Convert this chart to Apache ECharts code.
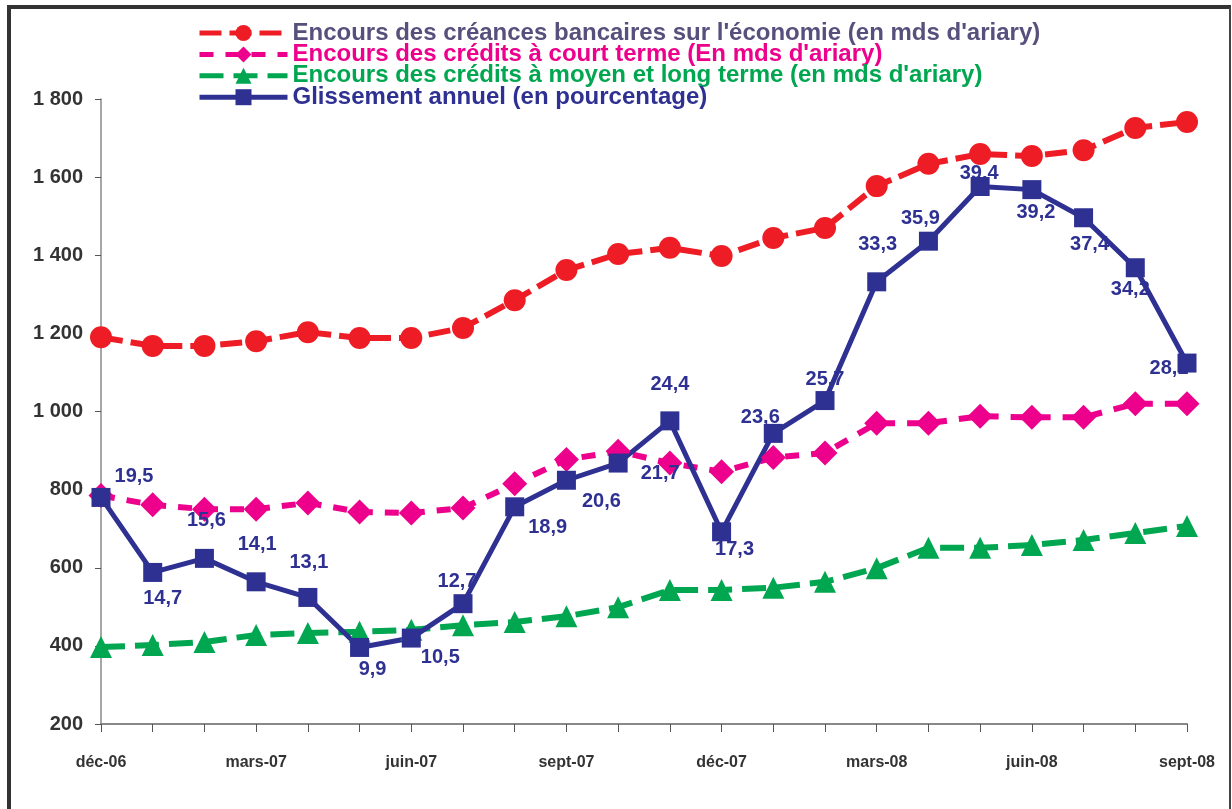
<!DOCTYPE html>
<html>
<head>
<meta charset="utf-8">
<script src="https://cdn.jsdelivr.net/npm/echarts@6/dist/echarts.min.js"></script>
<style>
  html, body { margin: 0; padding: 0; background: #fff; }
  #frame {
    position: absolute; left: 7px; top: 5px; width: 1218px; height: 810px;
    border-top: 4px solid #333; border-left: 4px solid #333; border-right: 2px solid #444;
  }
  #chart { position: absolute; left: 0; top: 0; width: 1232px; height: 809px; }
</style>
</head>
<body>
<div id="frame"></div>
<div id="chart"></div>
<script>
'use strict';

// Months, déc-06 .. sept-08
var months = [
  'déc-06', 'janv-07', 'févr-07', 'mars-07', 'avr-07', 'mai-07', 'juin-07',
  'juil-07', 'août-07', 'sept-07', 'oct-07', 'nov-07', 'déc-07', 'janv-08',
  'févr-08', 'mars-08', 'avr-08', 'mai-08', 'juin-08', 'juil-08', 'août-08', 'sept-08'
];

// Amounts in mds d'ariary
var creances = [1190, 1168, 1168, 1180, 1203, 1188, 1188, 1214, 1285, 1362, 1403,
  1419, 1398, 1444, 1470, 1577, 1634, 1659, 1654, 1669, 1726, 1741];
var courtTerme = [785, 761, 750, 750, 766, 743, 740, 753, 815, 877, 898,
  868, 846, 882, 894, 970, 970, 988, 985, 985, 1020, 1020];
var moyenLong = [397, 402, 410, 428, 433, 436, 441, 453, 461, 476, 499,
  543, 543, 549, 564, 599, 651, 651, 658, 671, 689, 707];
// Glissement annuel, %
var glissement = [19.5, 14.7, 15.6, 14.1, 13.1, 9.9, 10.5, 12.7, 18.9, 20.6, 21.7,
  24.4, 17.3, 23.6, 25.7, 33.3, 35.9, 39.4, 39.2, 37.4, 34.2, 28.1];

var seriesNames = [
  "Encours des créances bancaires sur l'économie (en mds d'ariary)",
  "Encours des crédits à court terme (En mds d'ariary)",
  "Encours des crédits à moyen et long terme (en mds d'ariary)",
  "Glissement annuel (en pourcentage)"
];

// where each percentage label sits relative to its point
var labelOffsets = [
  [33, -21], [10, 26], [2, -38], [1, -37], [1, -35], [13, 22], [29, 19], [-6, -22],
  [33, 21], [35, 21], [42, 10], [0, -36], [13, 18], [-13, -16], [0, -21], [1, -37],
  [-8, -23], [-1, -13], [4, 23], [6, 27], [-5, 22], [-18, 5]
];

var FONT = '"Liberation Sans", Arial, sans-serif';
var RED = '#EE1C25', PINK = '#EC008C', GREEN = '#00A650', NAVY = '#2E3192';

function fmtThousands(v) {
  if (v < 1000) return String(v);
  var r = String(v % 1000);
  while (r.length < 3) r = '0' + r;
  return Math.floor(v / 1000) + ' ' + r;
}

var chart = echarts.init(document.getElementById('chart'));

chart.setOption({
  animation: false,
  backgroundColor: 'transparent',
  legend: {
    orient: 'vertical',
    left: 192,
    top: 16,
    itemWidth: 88,
    itemHeight: 20,
    itemGap: -2.6,
    lineStyle: {width: 5},
    textStyle: {fontFamily: FONT, fontWeight: 'bold', fontSize: 24, lineHeight: 20},
    data: [
      {name: seriesNames[0], textStyle: {color: '#57507C'}},
      {name: seriesNames[1], textStyle: {color: PINK}},
      {name: seriesNames[2], textStyle: {color: GREEN}},
      {name: seriesNames[3], textStyle: {color: NAVY}}
    ]
  },
  grid: {left: 101, right: 45, top: 99, bottom: 85},
  xAxis: {
    type: 'category',
    data: months,
    boundaryGap: false,
    axisLine: {lineStyle: {color: '#888', width: 2}},
    axisTick: {show: true, interval: 0, length: 8, lineStyle: {color: '#555', width: 1}},
    axisLabel: {
      interval: 2, margin: 31, color: '#333',
      fontFamily: FONT, fontWeight: 'bold', fontSize: 16
    },
    splitLine: {show: false}
  },
  yAxis: [
    {
      type: 'value', min: 200, max: 1800, interval: 200,
      axisLine: {show: true, lineStyle: {color: '#888', width: 1.5}},
      axisTick: {show: true, length: 6, lineStyle: {color: '#555'}},
      axisLabel: {
        margin: 18, color: '#333', fontFamily: FONT, fontWeight: 'bold', fontSize: 20,
        formatter: fmtThousands
      },
      splitLine: {show: false}
    },
    {
      type: 'value', min: 5, max: 45, show: false,
      splitLine: {show: false}
    }
  ],
  series: [
    {
      name: seriesNames[0], type: 'line', data: creances,
      symbol: 'circle', symbolSize: 22,
      lineStyle: {color: RED, width: 6, type: [22, 8]},
      itemStyle: {color: RED}
    },
    {
      name: seriesNames[1], type: 'line', data: courtTerme,
      symbol: 'diamond', symbolSize: 25,
      lineStyle: {color: PINK, width: 6, type: [14, 12]},
      itemStyle: {color: PINK}
    },
    {
      name: seriesNames[2], type: 'line', data: moyenLong,
      symbol: 'triangle', symbolSize: 22,
      lineStyle: {color: GREEN, width: 6, type: [24, 10]},
      itemStyle: {color: GREEN}
    },
    {
      name: seriesNames[3], type: 'line', yAxisIndex: 1,
      data: glissement.map(function (v, i) {
        return {
          value: v,
          label: {offset: labelOffsets[i]}
        };
      }),
      symbol: 'rect', symbolSize: 19,
      lineStyle: {color: NAVY, width: 5},
      itemStyle: {color: NAVY},
      label: {
        show: true, position: 'inside', color: NAVY,
        fontFamily: FONT, fontWeight: 'bold', fontSize: 20,
        formatter: function (p) { return String(p.value).replace('.', ','); }
      }
    }
  ]
});
</script>
</body>
</html>
